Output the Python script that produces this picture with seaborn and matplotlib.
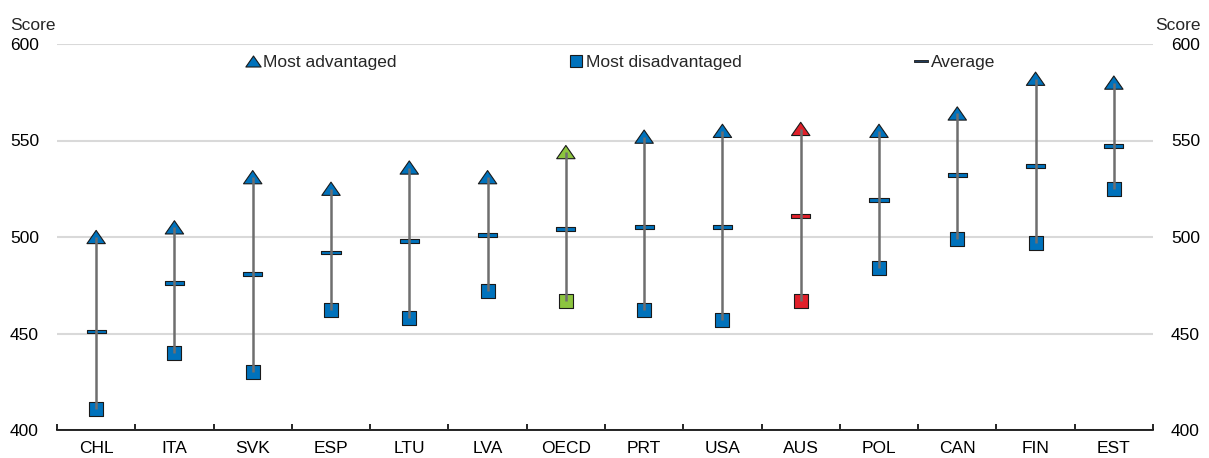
import numpy as np
import pandas as pd
import matplotlib
matplotlib.use("Agg")
import matplotlib.pyplot as plt
from matplotlib.path import Path
from matplotlib.lines import Line2D
from matplotlib.ticker import MultipleLocator
import seaborn as sns

# PISA scores by socio-economic background
countries = ["CHL", "ITA", "SVK", "ESP", "LTU", "LVA", "OECD", "PRT", "USA",
             "AUS", "POL", "CAN", "FIN", "EST"]
most_advantaged = [500, 505, 531, 525, 536, 531, 544, 552, 555, 556, 555, 564, 582, 580]
average = [451, 476, 481, 492, 498, 501, 504, 505, 505, 511, 519, 532, 537, 547]
most_disadvantaged = [411, 440, 430, 462, 458, 472, 467, 462, 457, 467, 484, 499, 497, 525]

BLUE = "#0072BC"
GREEN = "#8CC43F"
RED = "#E0202A"
# colours of the end markers and of the average marker per country
end_palette = {c: {"OECD": GREEN, "AUS": RED}.get(c, BLUE) for c in countries}
avg_palette = {c: {"AUS": RED}.get(c, BLUE) for c in countries}

df = pd.DataFrame({
    "country": countries,
    "pos": np.arange(len(countries)),
    "adv": most_advantaged,
    "avg": average,
    "dis": most_disadvantaged,
})

sns.set_theme(style="white")
plt.rcParams["font.family"] = ["Liberation Sans", "DejaVu Sans"]
FS = 12.5
plt.rcParams["font.size"] = FS

# custom marker shapes
tri = Path([(-1, -0.72), (1, -0.72), (0, 0.72), (-1, -0.72)],
           [Path.MOVETO, Path.LINETO, Path.LINETO, Path.CLOSEPOLY])
bar = Path([(-1, -0.2), (1, -0.2), (1, 0.2), (-1, 0.2), (-1, -0.2)],
           [Path.MOVETO, Path.LINETO, Path.LINETO, Path.LINETO, Path.CLOSEPOLY])

fig = plt.figure(figsize=(12.09, 4.58), dpi=100)
ax = fig.add_axes([57 / 1209, 1 - 430 / 458, 1096 / 1209, 386 / 458])

common = dict(hue="country", legend=False, edgecolor="#1a1a1a",
              linewidth=0.8, zorder=3, ax=ax)
sns.scatterplot(data=df, x="pos", y="dis", marker="s", s=100,
                palette=end_palette, **common)
sns.scatterplot(data=df, x="pos", y="avg", marker=bar, s=190,
                palette=avg_palette, **common)
sns.scatterplot(data=df, x="pos", y="adv", marker=tri, s=175,
                palette=end_palette, **common)

# range lines from most disadvantaged to most advantaged, drawn over the markers
ax.vlines(df["pos"], df["dis"], df["adv"], color="#6E6E6E", lw=1.8, zorder=4)

ax.set_xlim(-0.5, len(countries) - 0.5)
ax.set_ylim(400, 600)
ax.set_xlabel("")
ax.set_ylabel("")

ax.set_xticks(np.arange(len(countries)))
ax.set_xticklabels(countries)
ax.xaxis.set_minor_locator(MultipleLocator(1, offset=0.5))
ax.tick_params(axis="x", which="major", length=0, pad=8, labelsize=FS, colors="black")
ax.tick_params(axis="x", which="minor", length=4, direction="in", width=1.2,
               color="black", bottom=True)

ax.set_yticks([400, 450, 500, 550, 600])
ax.tick_params(axis="y", length=0, labelleft=True, labelright=True, pad=13,
               labelsize=FS, colors="black")
ax.grid(axis="y", color="#D9D9D9", lw=1.5)
ax.grid(axis="x", visible=False)
for side in ["left", "right", "top"]:
    ax.spines[side].set_visible(False)
ax.spines["bottom"].set_color("black")
ax.spines["bottom"].set_linewidth(1.2)

fig.text(10 / 1209, 1 - 30 / 458, "Score", ha="left", va="baseline", fontsize=FS)
fig.text(1201 / 1209, 1 - 30 / 458, "Score", ha="right", va="baseline", fontsize=FS)

handles = [
    Line2D([], [], ls="none", marker=tri, markersize=11, markerfacecolor=BLUE,
           markeredgecolor="#1a1a1a", markeredgewidth=0.8),
    Line2D([], [], ls="none", marker="s", markersize=9, markerfacecolor=BLUE,
           markeredgecolor="#1a1a1a", markeredgewidth=0.8),
    Line2D([], [], ls="none", marker=bar, markersize=10, markerfacecolor="#1F3A5A",
           markeredgecolor="#1a1a1a", markeredgewidth=0.6),
]
ax.legend(handles, ["Most advantaged", "Most disadvantaged", "Average"], ncol=3,
          loc="center", bbox_to_anchor=(0.515, 0.953), frameon=False,
          handlelength=0.6, handletextpad=0.3, columnspacing=10.0, fontsize=FS)

fig.savefig("out.png", dpi=100)
